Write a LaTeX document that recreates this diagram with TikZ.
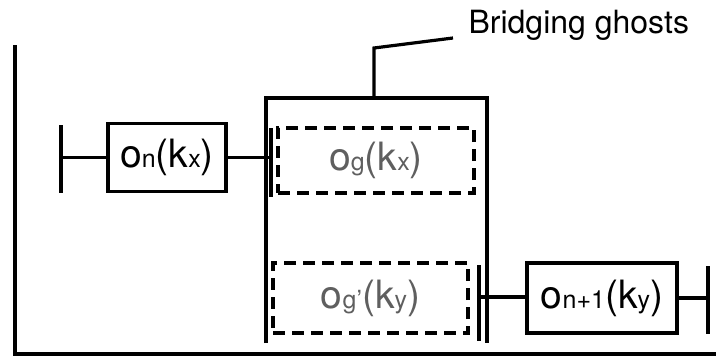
\documentclass[tikz,border=0pt]{standalone}
\usepackage{fontspec}
\setmainfont{TeX Gyre Heros}
\usetikzlibrary{positioning}
\definecolor{ghostgray}{RGB}{95,95,95}
% big letters and the small index letters that sit on the same baseline
\newcommand{\bigtxt}{\fontsize{39}{39}\selectfont}
\newcommand{\idxtxt}{\fontsize{25}{25}\selectfont}
\newcommand{\opname}[2]{{\bigtxt o}{\idxtxt #1}{\bigtxt (k}{\idxtxt #2}{\bigtxt )}}

\begin{document}
\begin{tikzpicture}[x=1pt, y=-1pt, line width=3.2pt,
    opbox/.style={draw, rectangle, inner sep=0pt, minimum height=68pt},
    ghostbox/.style={opbox, dash pattern=on 12pt off 7pt, text=ghostgray}]
    \useasboundingbox (0,0) rectangle (716,356);
    % --- Frame (left and bottom) ---
    \draw (15,45) -- (15,354) -- (716,354);
    % --- Bridging block, open at the bottom ---
    \draw (266,343) -- (266,98) -- (487,98) -- (487,343);
    \coordinate (lead) at (374,98);
    \node[anchor=base west, inner sep=0pt, font=\fontsize{32}{32}\selectfont] (bridge) at (467,33) {Bridging ghosts};
    \draw (lead) -- ++(0,-50) -- (453,38);
    % --- Operator boxes ---
    \node[opbox, minimum width=118pt] (on) at (167,157.5) {\opname{n}{x}};
    \node[ghostbox, minimum width=196pt, minimum height=65pt] (og) at (376,160.5) {\opname{g}{x}};
    \node[ghostbox, minimum width=195pt, minimum height=70pt] (ogp) at (370.5,298) {\opname{g’}{y}};
    \node[opbox, minimum width=150pt, minimum height=70pt] (onn) at (602,298) {\opname{n+1}{y}};
    % --- Bars ---
    \coordinate (barA) at (61,157.5);
    \coordinate (barB) at (271,158);
    \coordinate (barC) at (479,297);
    \coordinate (barD) at (708,298);
    \draw (61,125) -- (61,193);
    \draw (271,128) -- (271,197);
    \draw (479,265) -- (479,341);
    \draw (708,266) -- (708,334);
    % --- Connectors ---
    \draw (barA) -- (on.west);
    \draw (on.east) -- (on.east -| barB);
    \draw (barC) -- (barC -| onn.west);
    \draw (onn.east) -- (onn.east -| barD);
\end{tikzpicture}
\end{document}
